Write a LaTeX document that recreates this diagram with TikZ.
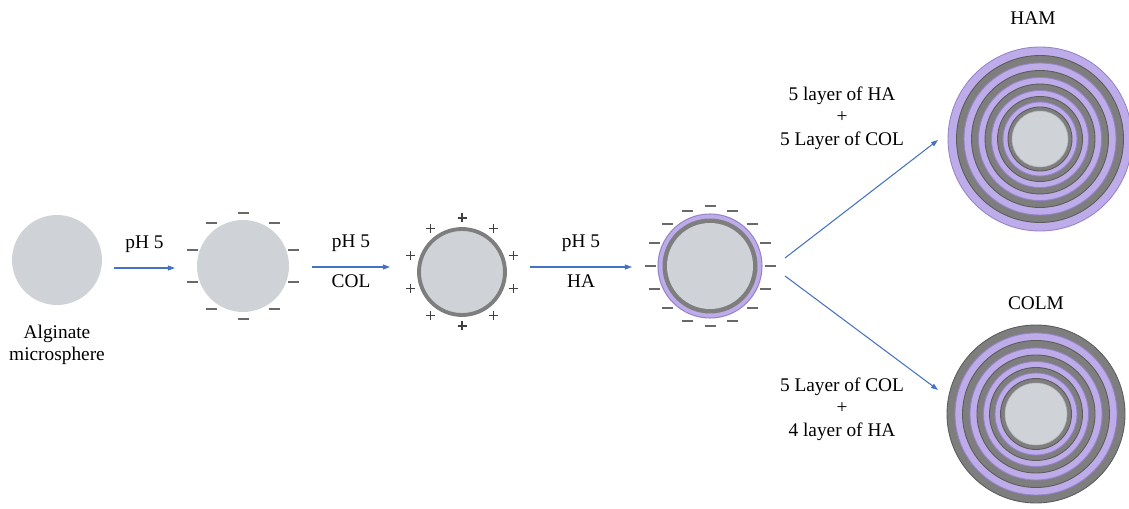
\documentclass[tikz,border=0pt]{standalone}
\usepackage{fontspec}
\setmainfont{Liberation Serif}
\usetikzlibrary{arrows.meta,positioning,calc}
\usepackage{xcolor}

\definecolor{coreGray}{RGB}{207,210,214}
\definecolor{colGray}{RGB}{126,126,126}
\definecolor{colEdge}{RGB}{92,92,92}
\definecolor{haPurple}{RGB}{190,172,234}
\definecolor{haEdge}{RGB}{150,132,200}
\definecolor{chargeGray}{RGB}{105,105,105}
\definecolor{flowBlue}{RGB}{68,114,196}

\begin{document}
\begin{tikzpicture}[
    x=0.02cm, y=0.02cm,
    font=\fontsize{11}{12.8}\selectfont,
    bead/.style={circle, fill=coreGray, inner sep=0pt, minimum size={2*#1*0.02cm}},
    arr/.style={-{Triangle[length=4pt, width=2.8pt]}, draw=flowBlue, line width=0.6pt},
    minus/.style={draw=chargeGray, line width=1.2pt},
    plus/.style={draw=black!75, line width=0.6pt},
    layer/.style={line width=0.5pt},
    steps/.style={align=center}
  ]
  \useasboundingbox (0,0) rectangle (1129,-509);

  %% Bare alginate bead
  \node[bead=45] (s1) at (57,-260) {};
  \node[align=center] (s1lbl) at (57,-345) {Alginate\\microsphere};

  %% Negatively charged bead
  \node[bead=46] (s2) at (243,-266) {};
  \foreach \a in {90,126,...,414}
    \draw[minus] ([shift={(\a:53)}]s2.center) +(-5.5,0) -- +(5.5,0);

  %% COL coated bead
  \node[bead=43, draw=colGray, line width=2.2pt] (s3) at (462,-272) {};
  \foreach \a in {90,126,...,414}
    \draw[plus] ([shift={(\a:54)}]s3.center) +(-4.5,0) -- +(4.5,0) +(0,-4.5) -- +(0,4.5);

  %% COL + HA coated bead
  \node[bead=52, fill=haPurple, draw=haEdge, line width=0.6pt] (s4) at (710,-266) {};
  \fill[colGray] (s4) circle (47.5);
  \fill[coreGray] (s4) circle (43);
  \foreach \a in {90,112.5,...,427.5}
    \draw[minus] ([shift={(\a:60)}]s4.center) +(-5.5,0) -- +(5.5,0);

  %% Multilayer beads
  \coordinate (ham) at (1040,-139);
  \foreach \r/\c/\e in {92/haPurple/haEdge, 83.5/colGray/colEdge, 76/haPurple/haEdge,
      68.5/colGray/colEdge, 61.5/haPurple/haEdge, 55/colGray/colEdge,
      48.5/haPurple/haEdge, 42.5/colGray/colEdge, 37/haPurple/haEdge, 32/colGray/colEdge}
    \filldraw[layer, fill=\c, draw=\e] (ham) circle (\r);
  \node[bead=28, draw=black!30, line width=0.3pt] (hamcore) at (ham) {};
  \node (hamlbl) at (1033,-18) {HAM};

  \coordinate (colm) at (1036,-414);
  \foreach \r/\c/\e in {89/colGray/colEdge, 81/haPurple/haEdge, 73.5/colGray/colEdge,
      66/haPurple/haEdge, 59/colGray/colEdge, 52.5/haPurple/haEdge,
      46.5/colGray/colEdge, 41/haPurple/haEdge, 35.5/colGray/colEdge}
    \filldraw[layer, fill=\c, draw=\e] (colm) circle (\r);
  \node[bead=31, draw=black!30, line width=0.3pt] (colmcore) at (colm) {};
  \node (colmlbl) at (1036,-303) {COLM};

  %% Process arrows
  \draw[arr] ($(s1)+(57,-8)$) -- node[above=5pt] {pH 5} ($(s2)+(-68,-2)$);
  \draw[arr] ($(s2)+(69,-1)$) -- node[above=5pt] {pH 5} node[below=1pt] {COL} ($(s3)+(-72,5)$);
  \draw[arr] ($(s3)+(68,5)$) -- node[above=5pt] {pH 5} node[below=1pt] {HA} ($(s4)+(-78,-1)$);

  %% Branches to the multilayer beads
  \draw[arr] ($(s4)+(75,8)$) -- ($(ham)+(-102,-1)$);
  \draw[arr] ($(s4)+(75,-10)$) -- ($(colm)+(-98,24)$);
  \node[steps] (hamsteps) at (842,-118) {5 layer of HA\\+\\5 Layer of COL};
  \node[steps] (colmsteps) at (842,-409) {5 Layer of COL\\+\\4 layer of HA};
\end{tikzpicture}
\end{document}
